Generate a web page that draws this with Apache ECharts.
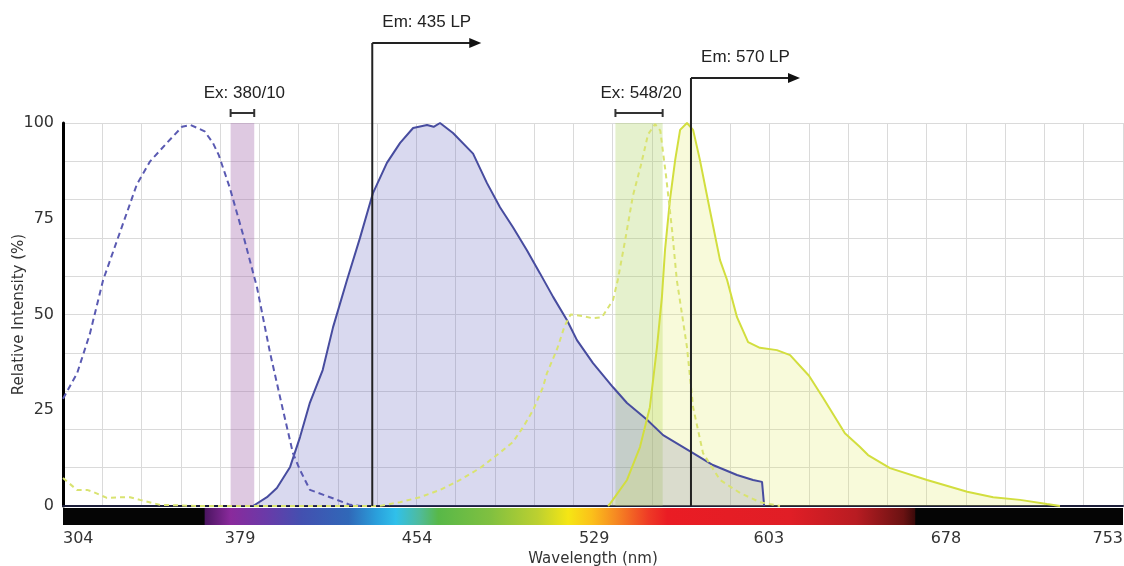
<!DOCTYPE html>
<html>
<head>
<meta charset="utf-8">
<script src="https://cdn.jsdelivr.net/npm/echarts@6/dist/echarts.min.js"></script>
<style>
html, body { margin: 0; padding: 0; background: #fff; }
#chart { width: 1124px; height: 566px; }
</style>
</head>
<body>
<div id="chart"></div>
<script>
// wavelength (nm), relative intensity (%)
var blueEx = [[304,28],[310,34.7],[315.4,45],[321,59],[327,69.5],[335.3,84],[340.9,90],[348,94.8],[354.4,99],[358,99.5],[362,98.4],[364,97.8],[367.5,94.8],[370,91.6],[374.7,83],[380.2,71],[386.2,57],[391.7,40],[397.2,25],[401.4,13.8],[404.4,9.4],[408.6,4.2],[417.1,2.3],[425.6,0.3],[430,0]];
var blueEm = [[384.5,0],[390.4,2.3],[394.6,4.7],[400.2,10.2],[404.4,18],[408.6,27],[414,35.5],[418.4,46.7],[424.3,59],[429.8,70],[435.3,81.7],[441.2,89.6],[446.8,94.8],[452.3,98.7],[458.2,99.5],[461,99],[463.7,100],[469.2,97.4],[477.7,92],[483.6,84.3],[489.1,78],[494.6,72.8],[500.5,66.8],[506,60.8],[511.6,54.6],[517.5,48.5],[521.7,43.3],[528.5,37.3],[537,31],[542.9,26.9],[551.4,22.5],[558.2,18.5],[570.9,13.8],[579.3,10.7],[589.5,8.1],[596.3,6.8],[600.1,6.3],[601,0]];
var yellowEx = [[304,7.3],[309.9,4.2],[314.2,4.2],[316.7,3.7],[322.6,2.1],[328.1,2.3],[332.4,2.3],[336.6,1.6],[345.1,0.3],[362,0],[438,0],[446.8,1],[455.2,2.3],[463.7,4.2],[472.2,6.8],[480.6,9.9],[487.8,13.3],[494.6,16.7],[498.9,20.6],[503.1,25],[507.3,31],[509,34.7],[513.3,41],[516.5,47],[519,50],[524,49.6],[528.5,49],[532.3,49.3],[537,53.8],[539,59],[542,69],[545.4,81],[548.8,89],[551.8,97],[554.8,99.7],[557,98],[559.4,86.4],[562,72],[564,59],[568.3,41.5],[570.9,25.8],[575.1,13.8],[582.3,6.8],[590.8,3.4],[599.2,1],[607.7,0]];
var yellowEm = [[534.9,0],[536,0.8],[542.9,6.8],[548.4,15.4],[552.6,25.8],[555.6,41.5],[557.7,54.6],[559,66.8],[561.1,79.9],[563.3,90.3],[565.4,98.2],[568.3,100],[570.9,98.2],[573.8,90.3],[578,77.3],[582.3,64.2],[585.3,59],[589.5,49.3],[594.2,42.8],[599.2,41.3],[606.4,40.7],[612,39.4],[620,34],[626,28.2],[635.2,19],[641.6,15.4],[645,13.3],[654.3,9.9],[670,6.8],[687,3.7],[698,2.3],[709.4,1.6],[720.8,0.5],[726.3,0]];

var xTicks = [304, 379, 454, 529, 603, 678, 753];
var yTicks = [0, 25, 50, 75, 100];
var gridDivisions = 27;

var exCenters = [380, 548];
var exWidths = [10, 20];
var emCuts = [435, 570];
var spectrumRange = [364, 665];

var bandColors = ['rgba(160,100,170,0.35)', 'rgba(170,210,90,0.3)'];
var emRise = [80, 45];
var labelFont = '17px "Liberation Sans", Arial, sans-serif';
var tickFont = '"DejaVu Sans", Verdana, sans-serif';

var chart = echarts.init(document.getElementById('chart'));

function renderBand(params, api) {
    var c = api.value(0), w = api.value(1);
    var p0 = api.coord([c - w / 2, 100]);
    var p1 = api.coord([c + w / 2, 0]);
    return {
        type: 'rect',
        shape: { x: p0[0], y: p0[1], width: p1[0] - p0[0], height: p1[1] - p0[1] },
        style: { fill: bandColors[params.dataIndex] }
    };
}

function renderExLabel(params, api) {
    var c = api.value(0), w = api.value(1);
    var l = api.coord([c - w / 2, 100]);
    var r = api.coord([c + w / 2, 100]);
    var y = l[1] - 10;
    var st = { stroke: '#333', lineWidth: 2 };
    return {
        type: 'group',
        children: [
            { type: 'line', shape: { x1: l[0], y1: y, x2: r[0], y2: y }, style: st },
            { type: 'line', shape: { x1: l[0], y1: y - 4, x2: l[0], y2: y + 4 }, style: st },
            { type: 'line', shape: { x1: r[0], y1: y - 4, x2: r[0], y2: y + 4 }, style: st },
            { type: 'text', x: (l[0] + r[0]) / 2 + 2, y: y - 20,
              style: { text: 'Ex: ' + c + '/' + w, font: labelFont, fill: '#222', align: 'center', verticalAlign: 'middle' } }
        ]
    };
}

function renderEm(params, api) {
    var v = api.value(0);
    var base = api.coord([v, 0]);
    var x = base[0];
    var top = api.coord([v, 100])[1] - emRise[params.dataIndex];
    var len = 109;
    return {
        type: 'group',
        children: [
            { type: 'line', shape: { x1: x, y1: base[1], x2: x, y2: top }, style: { stroke: '#222', lineWidth: 2 } },
            { type: 'line', shape: { x1: x, y1: top, x2: x + len - 8, y2: top }, style: { stroke: '#222', lineWidth: 2 } },
            { type: 'polygon', shape: { points: [[x + len - 12, top - 5], [x + len, top], [x + len - 12, top + 5]] }, style: { fill: '#111' } },
            { type: 'text', x: x + len / 2, y: top - 21,
              style: { text: 'Em: ' + v + ' LP', font: labelFont, fill: '#222', align: 'center', verticalAlign: 'middle' } }
        ]
    };
}

function renderSpectrum(params, api) {
    var p0 = api.coord([api.value(0), 1]);
    var p1 = api.coord([api.value(1), 0]);
    var span = spectrumRange[1] - spectrumRange[0];
    function at(nm) { return (nm - spectrumRange[0]) / span; }
    var stops = [
        [364, '#4a1560'], [375, '#8a2a9c'], [390, '#6a3aa8'], [405, '#4350b0'],
        [425, '#3068b8'], [437, '#2aa0dc'], [445, '#30c0ea'], [455, '#4fbb9c'],
        [463, '#58b848'], [485, '#80c040'], [505, '#bcd030'], [518, '#f5e614'],
        [528, '#fbc01a'], [538, '#f68a22'], [552, '#ee3a26'], [560, '#ea1c24'],
        [612, '#e01e26'], [640, '#b81c22'], [660, '#6a1212'], [665, '#3a0a0a']
    ].map(function (s) { return { offset: at(s[0]), color: s[1] }; });
    return {
        type: 'rect',
        shape: { x: p0[0], y: p0[1], width: p1[0] - p0[0], height: p1[1] - p0[1] },
        style: { fill: new echarts.graphic.LinearGradient(0, 0, 1, 0, stops) }
    };
}

var option = {
    animation: false,
    backgroundColor: '#fff',
    grid: [
        { left: 63, right: 1, top: 123, bottom: 60, outerBoundsMode: 'none', containLabel: false },
        { left: 63, right: 1, top: 508, height: 17, show: true, backgroundColor: '#050505', borderWidth: 0,
          outerBoundsMode: 'none', containLabel: false }
    ],
    xAxis: [
        {
            type: 'value', gridIndex: 0, min: 304, max: 753,
            axisLine: { show: true, lineStyle: { color: '#1c1e3a', width: 2 } },
            axisTick: { show: false }, axisLabel: { show: false }, splitLine: { show: false }
        },
        {
            type: 'value', gridIndex: 0, min: 0, max: gridDivisions, interval: 1,
            axisLine: { show: false }, axisTick: { show: false }, axisLabel: { show: false },
            splitLine: { show: true, lineStyle: { color: '#dadada', width: 1 } }
        },
        {
            type: 'value', gridIndex: 1, min: 304, max: 753,
            axisLine: { show: false }, axisTick: { show: false }, splitLine: { show: false },
            axisLabel: {
                customValues: xTicks, margin: 6, color: '#333', fontSize: 16, fontFamily: tickFont,
                alignMinLabel: 'left', alignMaxLabel: 'right',
                formatter: function (v) { return String(v); }
            },
            name: 'Wavelength (nm)', nameLocation: 'middle', nameGap: 27, nameMoveOverlap: false,
            nameTextStyle: { color: '#333', fontSize: 15, fontFamily: tickFont }
        }
    ],
    yAxis: [
        {
            type: 'value', gridIndex: 0, min: 0, max: 100, interval: 10,
            axisLine: { show: false }, axisTick: { show: false }, axisLabel: { show: false },
            splitLine: { show: true, lineStyle: { color: '#dadada', width: 1 } }
        },
        {
            type: 'value', gridIndex: 0, min: 0, max: 100, interval: 25, position: 'left',
            axisLine: { show: true, lineStyle: { color: '#000', width: 3 } },
            axisTick: { show: false }, splitLine: { show: false },
            axisLabel: {
                margin: 9, color: '#333', fontSize: 16, fontFamily: tickFont,
                formatter: function (v) { return yTicks.indexOf(v) >= 0 ? String(v) : ''; }
            },
            name: 'Relative Intensity (%)', nameLocation: 'middle', nameGap: 36, nameMoveOverlap: false,
            nameTextStyle: { color: '#333', fontSize: 15, fontFamily: tickFont }
        },
        { type: 'value', gridIndex: 1, min: 0, max: 1, show: false }
    ],
    series: [
        {
            type: 'custom', xAxisIndex: 0, yAxisIndex: 0, z: 1, silent: true,
            renderItem: renderBand,
            data: exCenters.map(function (c, i) { return [c, exWidths[i]]; })
        },
        {
            name: 'Ex blue', type: 'line', xAxisIndex: 0, yAxisIndex: 0, z: 3,
            showSymbol: false, data: blueEx,
            lineStyle: { color: '#5a5ab2', width: 2, type: [6, 4] }
        },
        {
            name: 'Em blue', type: 'line', xAxisIndex: 0, yAxisIndex: 0, z: 2,
            showSymbol: false, data: blueEm,
            lineStyle: { color: '#474c9f', width: 2 },
            areaStyle: { color: 'rgba(100,100,190,0.35)', origin: 'start' }
        },
        {
            name: 'Ex yellow', type: 'line', xAxisIndex: 0, yAxisIndex: 0, z: 3,
            showSymbol: false, data: yellowEx,
            lineStyle: { color: '#d9e370', width: 2, type: [5, 4] }
        },
        {
            name: 'Em yellow', type: 'line', xAxisIndex: 0, yAxisIndex: 0, z: 2,
            showSymbol: false, data: yellowEm,
            lineStyle: { color: '#d2de3e', width: 2 },
            areaStyle: { color: 'rgba(220,230,80,0.3)', origin: 'start' }
        },
        {
            type: 'custom', xAxisIndex: 0, yAxisIndex: 0, z: 5, silent: true,
            renderItem: renderExLabel,
            data: exCenters.map(function (c, i) { return [c, exWidths[i]]; })
        },
        {
            type: 'custom', xAxisIndex: 0, yAxisIndex: 0, z: 6, silent: true,
            renderItem: renderEm,
            data: emCuts.map(function (c) { return [c, 0]; })
        },
        {
            type: 'custom', xAxisIndex: 2, yAxisIndex: 2, z: 1, silent: true,
            renderItem: renderSpectrum,
            data: [spectrumRange]
        }
    ]
};

chart.setOption(option);
</script>
</body>
</html>
